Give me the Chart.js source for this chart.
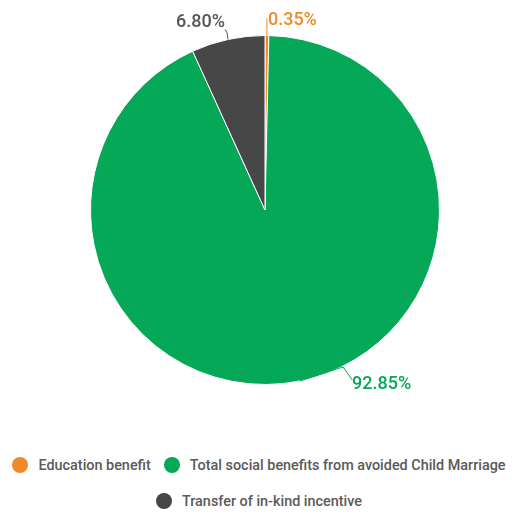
<!DOCTYPE html>
<html>
<head>
<meta charset="utf-8">
<script src="https://cdn.jsdelivr.net/npm/chart.js"></script>
<style>
  body { margin: 0; background: #fff; font-family: Roboto, "Noto Sans", sans-serif; }
  #wrap { position: relative; width: 516px; height: 440px; }
  #legend { width: 506px; margin-left: 6px; display: flex; flex-wrap: wrap; justify-content: center; row-gap: 20px; column-gap: 13px; padding-top: 17px; }
  .item { display: flex; align-items: center; font-size: 14.4px; font-weight: 500; color: #5a5a5a; height: 16px; white-space: nowrap; }
  .dot { width: 16px; height: 16px; border-radius: 50%; margin-right: 10px; }
</style>
</head>
<body>
<div id="wrap"><canvas id="pie"></canvas></div>
<div id="legend"></div>
<script>
// data
const categories = ['Education benefit', 'Total social benefits from avoided Child Marriage', 'Transfer of in-kind incentive'];
const shares = [0.35, 92.85, 6.80];
const sliceColors = ['#ee8a28', '#04a857', '#474747'];
const labelColors = ['#ee8a28', '#04a857', '#555555'];

// legend under the pie
const legendBox = document.getElementById('legend');
categories.forEach((name, i) => {
    legendBox.insertAdjacentHTML('beforeend',
        `<div class="item"><span class="dot" style="background:${sliceColors[i]}"></span>${name}</div>`);
});

// percent labels with leader lines, placed outside the slices
const outsideLabels = {
    id: 'outsideLabels',
    afterDatasetsDraw(chart) {
        const ctx = chart.ctx;
        const arcs = chart.getDatasetMeta(0).data;
        ctx.save();
        ctx.font = '500 18px Roboto, sans-serif';
        ctx.lineWidth = 1;
        arcs.forEach((arc, i) => {
            const mid = (arc.startAngle + arc.endAngle) / 2;
            const r = arc.outerRadius;
            const px = arc.x + Math.cos(mid) * r;
            const py = arc.y + Math.sin(mid) * r;
            const text = shares[i].toFixed(2) + '%';
            ctx.strokeStyle = labelColors[i];
            ctx.fillStyle = labelColors[i];
            ctx.beginPath();
            ctx.moveTo(px, py);
            let tx, ty, align;
            if (Math.sin(mid) > 0.5) {
                // bottom label
                ctx.lineTo(px + 43, py - 14);
                ctx.lineTo(px + 52, py - 1);
                tx = px + 52; ty = py + 8; align = 'left';
            } else if (Math.cos(mid) >= 0) {
                ctx.lineTo(px, py - 17);
                tx = px + 1; ty = py - 11; align = 'left';
            } else {
                ctx.lineTo(px - 1, py - 7);
                ctx.lineTo(px - 3, py - 10);
                tx = px - 3; ty = py - 12; align = 'right';
            }
            ctx.stroke();
            ctx.textAlign = align;
            ctx.textBaseline = 'alphabetic';
            ctx.fillText(text, tx, ty);
        });
        ctx.restore();
    }
};

new Chart(document.getElementById('pie'), {
    type: 'pie',
    data: {
        labels: categories,
        datasets: [{
            data: shares,
            backgroundColor: sliceColors,
            borderColor: '#ffffff',
            borderWidth: 1
        }]
    },
    options: {
        responsive: true,
        maintainAspectRatio: false,
        animation: false,
        layout: { padding: { top: 35, bottom: 55, left: 90, right: 76 } },
        plugins: {
            legend: { display: false },
            tooltip: { enabled: false }
        }
    },
    plugins: [outsideLabels]
});
</script>
</body>
</html>
